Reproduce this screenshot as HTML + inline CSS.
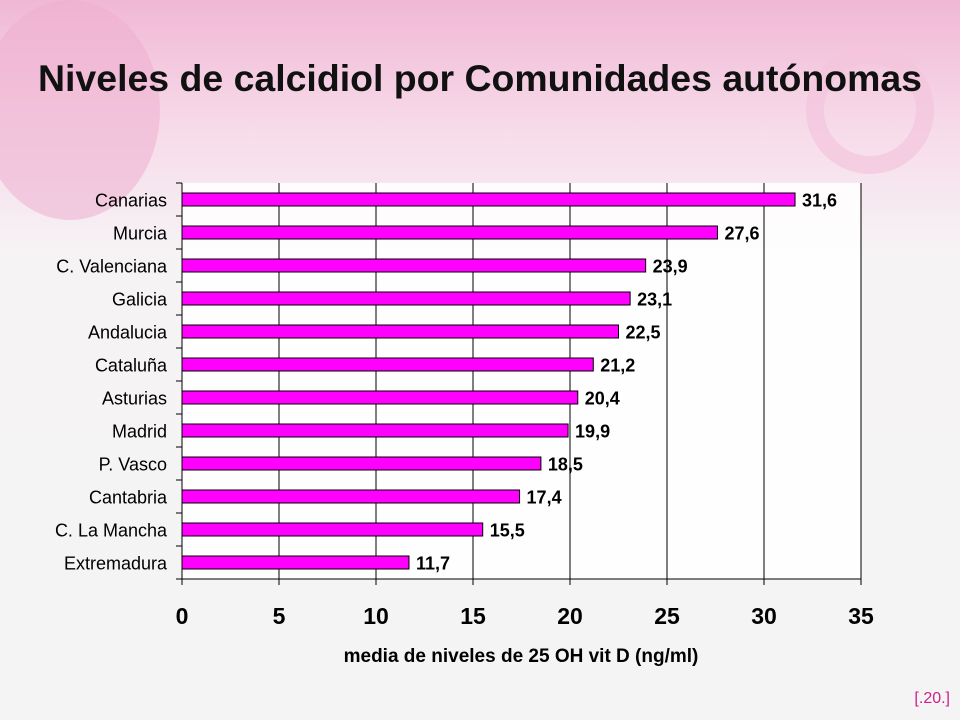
<!DOCTYPE html>
<html><head><meta charset="utf-8"><style>
html,body{margin:0;padding:0;width:960px;height:720px;overflow:hidden;font-family:"Liberation Sans",sans-serif}
</style></head><body>
<svg id="chart" width="960" height="720" xmlns="http://www.w3.org/2000/svg">
<defs>
<linearGradient id="bg" x1="0" y1="0" x2="0" y2="1">
<stop offset="0" stop-color="#f0b8d6"/><stop offset="0.18" stop-color="#f7dbe9"/><stop offset="0.35" stop-color="#f6f3f5"/><stop offset="1" stop-color="#f4f4f4"/>
</linearGradient>
</defs>
<rect width="960" height="720" fill="url(#bg)"/>
<ellipse cx="70" cy="110" rx="90" ry="110" fill="#eeaed0" opacity="0.55"/>
<circle cx="870" cy="110" r="55" fill="none" stroke="#f3c4dd" stroke-width="18" opacity="0.7"/>
<rect x="182" y="183" width="679" height="396" fill="#ffffff" opacity="0.85"/>
<text x="480" y="91" text-anchor="middle" font-size="37" font-weight="bold" fill="#111" textLength="884" lengthAdjust="spacingAndGlyphs">Niveles de calcidiol por Comunidades autónomas</text>
<g id="plot"></g>
<text x="521" y="662" text-anchor="middle" font-size="19" font-weight="bold" fill="#000">media de niveles de 25 OH vit D (ng/ml)</text>
<text x="950" y="703" text-anchor="end" font-size="16" fill="#d0208a">[.20.]</text>
</svg>
<script>
const categories=["Canarias","Murcia","C. Valenciana","Galicia","Andalucia","Cataluña","Asturias","Madrid","P. Vasco","Cantabria","C. La Mancha","Extremadura"];
const values=[31.6,27.6,23.9,23.1,22.5,21.2,20.4,19.9,18.5,17.4,15.5,11.7];
const xTicks=[0,5,10,15,20,25,30,35];
const NS="http://www.w3.org/2000/svg";
const g=document.getElementById('plot');
const x0=182,x1=861,yTop=183,yBot=579;
const xs=v=>x0+(v-0)/(35-0)*(x1-x0);
const band=(yBot-yTop)/categories.length;
function mk(t,a){const e=document.createElementNS(NS,t);for(const k in a)e.setAttribute(k,a[k]);g.appendChild(e);return e;}
xTicks.forEach((t,i)=>{
 if(t>0){const l=mk('line',{x1:xs(t),x2:xs(t),y1:yTop,y2:yBot,stroke:'#000','stroke-width':1});
 
 }
 const tk=mk('line',{x1:xs(t),x2:xs(t),y1:yBot,y2:yBot+6,stroke:'#000'});
 
 
 const tx=mk('text',{x:xs(t),y:624,'text-anchor':'middle','font-size':23,'font-weight':'bold',fill:'#000'});
 tx.textContent=t;
 
 
});
categories.forEach((c,i)=>{
 const cy=yTop+band*(i+0.5);
 const r=mk('rect',{x:x0,y:cy-6.5,width:xs(values[i])-x0,height:13,fill:'#ff00ff',stroke:'#000','stroke-width':1});
 
 
 const lb=mk('text',{x:xs(values[i])+7,y:cy+7,'font-size':18,'font-weight':'bold',fill:'#000'});
 lb.textContent=values[i].toFixed(1).replace('.',',');
 
 
 const cl=mk('text',{x:x0-15,y:cy+7,'text-anchor':'end','font-size':18,fill:'#000'});
 cl.textContent=c;
 
 
});
for(let i=0;i<=categories.length;i++){
 const y=yTop+band*i;
 const t=mk('line',{x1:x0-6,x2:x0,y1:y,y2:y,stroke:'#000'});
 
 
}
const ya=mk('line',{x1:x0,x2:x0,y1:yTop,y2:yBot,stroke:'#000'});


const xa=mk('line',{x1:x0,x2:x1,y1:yBot,y2:yBot,stroke:'#000'});


</script>
</body></html>
